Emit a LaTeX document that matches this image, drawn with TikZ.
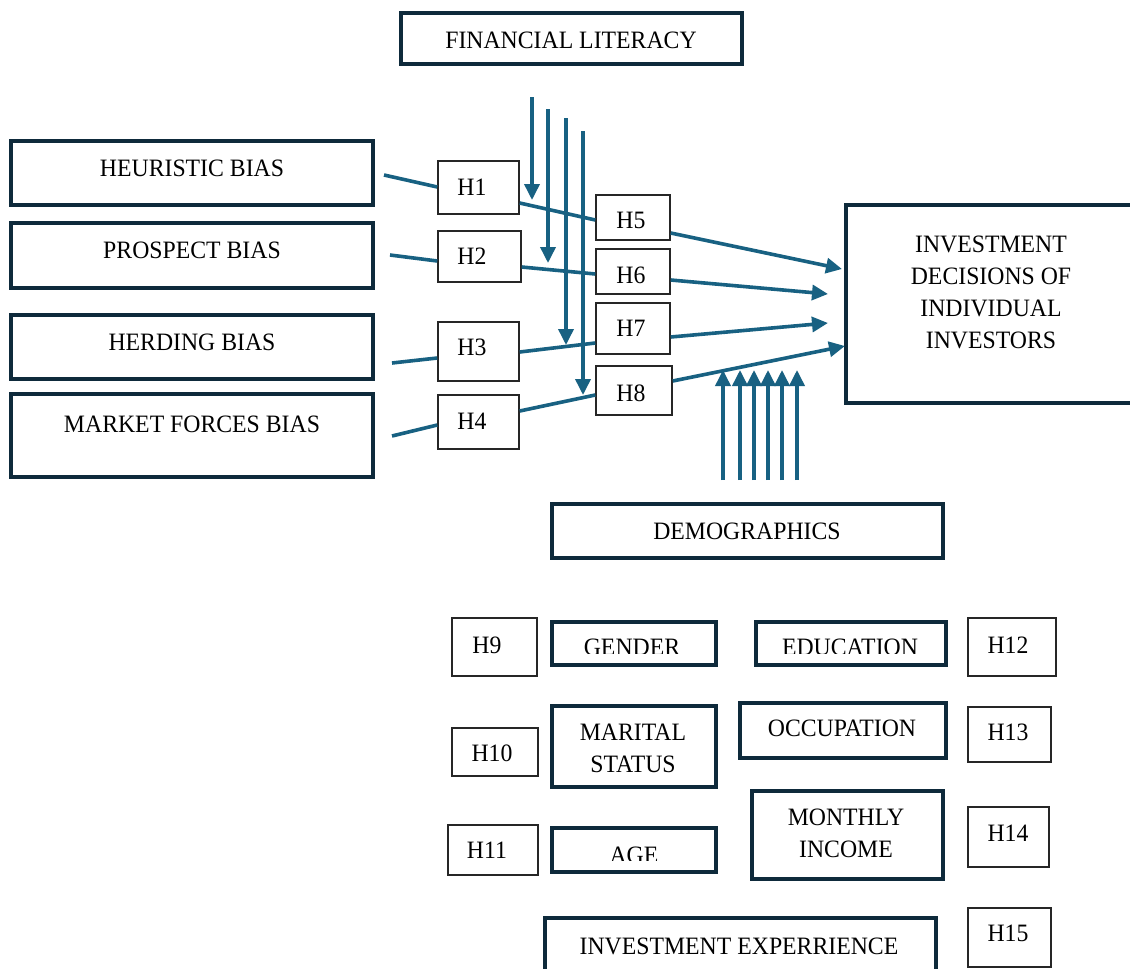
\documentclass[tikz,border=0pt]{standalone}
\usepackage{fontspec}
\setmainfont[FakeStretch=0.95]{Liberation Serif}
\usetikzlibrary{arrows.meta,calc}
\definecolor{frame}{RGB}{14,42,59}
\definecolor{flow}{RGB}{24,97,130}
\tikzset{
  thickbox/.style={draw=frame, line width=3.9pt, inner sep=0pt},
  hypbox/.style={draw=black!85, line width=1.4pt, inner sep=0pt},
  lbl/.style={font=\fontsize{25}{32}\selectfont, inner sep=0pt, align=center, text=black},
  link/.style={draw=flow, line width=3.6pt},
  arrowlink/.style={link, -{Triangle[length=16pt,width=15pt]}},
}
% \boxnode{style}{name}{x1}{y1}{x2}{y2}: empty framed rectangle between two corners
\newcommand\boxnode[6]{%
  \node[#1, minimum width={(#5-#3)*1pt}, minimum height={(#6-#4)*1pt}]
    (#2) at ({(#3+#5)/2},{(#4+#6)/2}) {};}
\begin{document}
\begin{tikzpicture}[x=1pt,y=-1pt]
\clip (0,0) rectangle (1130,969);
\fill[white] (0,0) rectangle (1130,969);

% ---- constructs ----
\boxnode{thickbox}{fl}{401}{13}{742}{64}
\node[lbl] (fl-t) at (571,40) {FINANCIAL LITERACY};

\boxnode{thickbox}{hb}{11}{141}{373}{205}
\node[lbl] (hb-t) at (192,168) {HEURISTIC BIAS};
\boxnode{thickbox}{pb}{11}{223}{373}{288}
\node[lbl] (pb-t) at (192,250) {PROSPECT BIAS};
\boxnode{thickbox}{db}{11}{315}{373}{379}
\node[lbl] (db-t) at (192,342) {HERDING BIAS};
\boxnode{thickbox}{mb}{11}{394}{373}{477}
\node[lbl] (mb-t) at (192,424) {MARKET FORCES BIAS};

\boxnode{thickbox}{inv}{846}{205}{1160}{403}
\node[lbl] (inv-t) at (991,292) {INVESTMENT\\DECISIONS OF\\INDIVIDUAL\\INVESTORS};

\boxnode{thickbox}{dem}{552}{504}{943}{558}
\node[lbl] (dem-t) at (747,531) {DEMOGRAPHICS};

% ---- hypothesis boxes (upper) ----
\boxnode{hypbox}{h1}{438}{161}{519}{214}
\node[lbl] (h1-t) at (472,187) {H1};
\boxnode{hypbox}{h2}{438}{231}{521}{282}
\node[lbl] (h2-t) at (472,256.5) {H2};
\boxnode{hypbox}{h3}{438}{322}{519}{381}
\node[lbl] (h3-t) at (472,347) {H3};
\boxnode{hypbox}{h4}{438}{395}{519}{449}
\node[lbl] (h4-t) at (472,421) {H4};
\boxnode{hypbox}{h5}{596}{195}{670}{240}
\node[lbl] (h5-t) at (631,220.5) {H5};
\boxnode{hypbox}{h6}{596}{249}{670}{294}
\node[lbl] (h6-t) at (631,275) {H6};
\boxnode{hypbox}{h7}{596}{303}{670}{354}
\node[lbl] (h7-t) at (631,328) {H7};
\boxnode{hypbox}{h8}{596}{366}{672}{415}
\node[lbl] (h8-t) at (631,393) {H8};

% ---- paths from the biases through the hypotheses ----
\coordinate (hb-o) at (384,175);
\coordinate (pb-o) at (390,255);
\coordinate (db-o) at (392,363);
\coordinate (mb-o) at (392,436);
\coordinate (tip1) at (842,269);
\coordinate (tip2) at (828,294);
\coordinate (tip3) at (828,323);
\coordinate (tip4) at (845,346);

\draw[link] (hb-o) -- (h1.west |- 0,187);
\draw[link] (h1.east |- 0,203) -- (h5.west |- 0,220);
\draw[arrowlink] (h5.east |- 0,233) -- (tip1);

\draw[link] (pb-o) -- (h2.west |- 0,261);
\draw[link] (h2.east |- 0,267) -- (h6.west |- 0,274);
\draw[arrowlink] (h6.east |- 0,280) -- (tip2);

\draw[link] (db-o) -- (h3.west |- 0,358);
\draw[link] (h3.east |- 0,352) -- (h7.west |- 0,343);
\draw[arrowlink] (h7.east |- 0,337) -- (tip3);

\draw[link] (mb-o) -- (h4.west |- 0,425);
\draw[link] (h4.east |- 0,411) -- (h8.west |- 0,395);
\draw[arrowlink] (h8.east |- 0,381) -- (tip4);

% ---- moderating arrows from financial literacy ----
\foreach \i/\x/\ya/\yb in {1/532/97/200, 2/548/109/263, 3/566/118/345, 4/583/131/395}{
  \coordinate (fl-s\i) at (\x,\ya);
  \coordinate (fl-e\i) at (\x,\yb);
  \draw[arrowlink] (fl-s\i) -- (fl-e\i);
}

% ---- arrows from demographics ----
\foreach \i/\x in {1/723, 2/740, 3/754, 4/768, 5/782, 6/797}{
  \coordinate (dm-s\i) at (\x,480);
  \coordinate (dm-e\i) at (\x,370);
  \draw[arrowlink] (dm-s\i) -- (dm-e\i);
}

% ---- demographic variables ----
\boxnode{hypbox}{h9}{452}{618}{537}{676}
\node[lbl] (h9-t) at (487,645) {H9};
\begin{scope}
  \clip (552,600) rectangle (716,653);
  \node[lbl] (gen-t) at (632,647) {GENDER};
\end{scope}
\boxnode{thickbox}{gen}{552}{622}{716}{665}

\begin{scope}
  \clip (756,600) rectangle (946,653);
  \node[lbl] (edu-t) at (850,647) {EDUCATION};
\end{scope}
\boxnode{thickbox}{edu}{756}{622}{946}{665}
\boxnode{hypbox}{h12}{968}{618}{1056}{676}
\node[lbl] (h12-t) at (1008,645) {H12};

\boxnode{hypbox}{h10}{452}{728}{538}{776}
\node[lbl] (h10-t) at (492,753) {H10};
\boxnode{thickbox}{mar}{552}{706}{716}{787}
\node[lbl] (mar-t) at (633,748) {MARITAL\\STATUS};
\boxnode{thickbox}{occ}{740}{703}{946}{758}
\node[lbl] (occ-t) at (842,728.5) {OCCUPATION};
\boxnode{hypbox}{h13}{968}{707}{1051}{762}
\node[lbl] (h13-t) at (1008,732) {H13};

\boxnode{hypbox}{h11}{448}{825}{538}{875}
\node[lbl] (h11-t) at (487,850) {H11};
\begin{scope}
  \clip (552,800) rectangle (716,860);
  \node[lbl] (age-t) at (634,855) {AGE};
\end{scope}
\boxnode{thickbox}{age}{552}{828}{716}{872}
\boxnode{thickbox}{inc}{752}{791}{943}{879}
\node[lbl] (inc-t) at (846,833.5) {MONTHLY\\INCOME};
\boxnode{hypbox}{h14}{968}{807}{1049}{867}
\node[lbl] (h14-t) at (1008,833) {H14};

\boxnode{thickbox}{exp}{545}{918}{936}{1000}
\node[lbl] (exp-t) at (739,946) {INVESTMENT EXPERRIENCE};
\boxnode{hypbox}{h15}{968}{908}{1051}{967}
\node[lbl] (h15-t) at (1008,933) {H15};
\end{tikzpicture}
\end{document}
